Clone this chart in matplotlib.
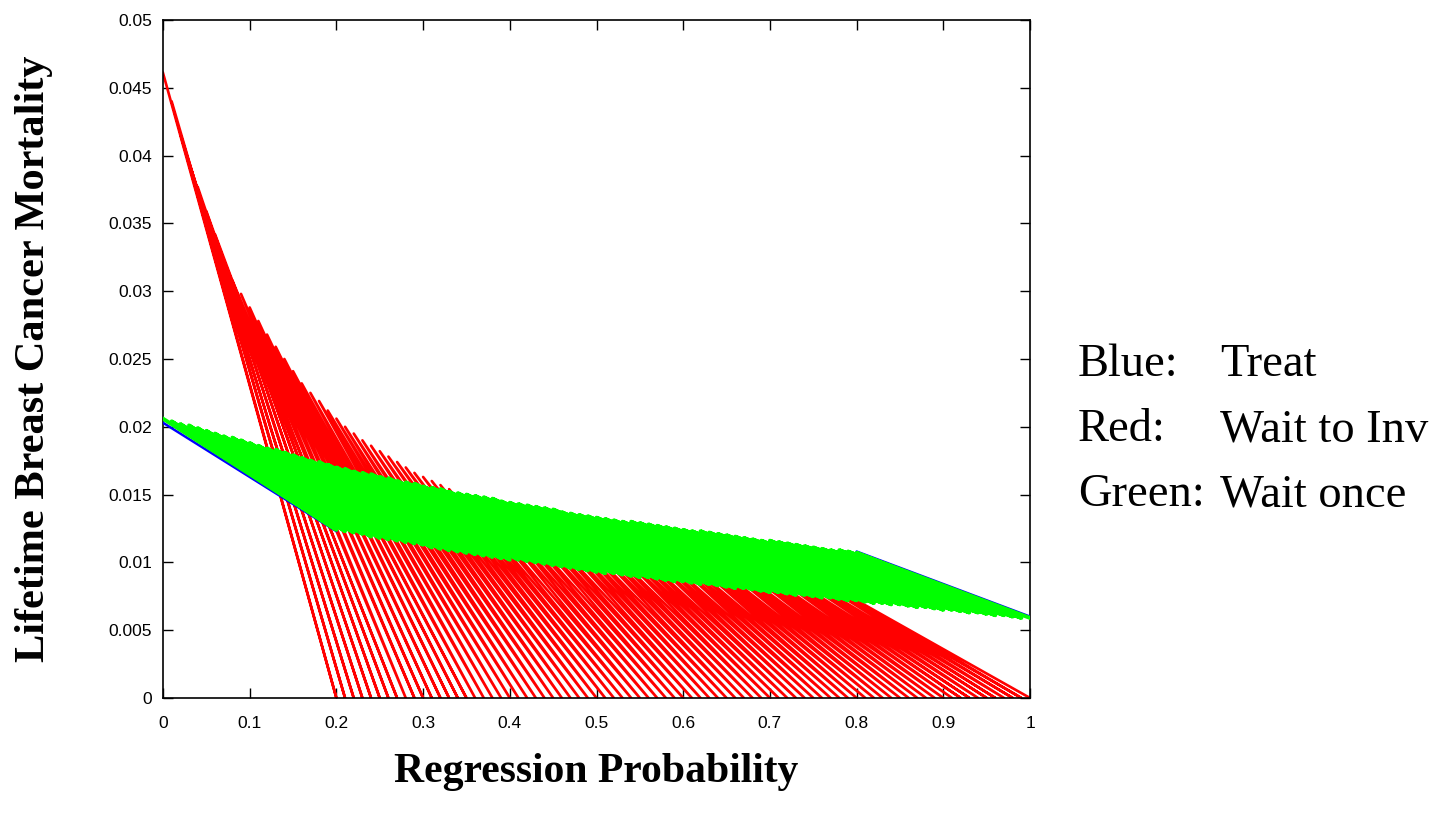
import numpy as np
import matplotlib.pyplot as plt

# regression probability at which each sweep line starts (top end)
reg_start = np.round(np.arange(0, 0.805, 0.01), 2)
blue_start = np.round(np.arange(0, 0.81, 0.02), 2)
shift = 0.2          # each line ends 0.2 further right

# Red: Wait to Inv  (top values, lines end at zero mortality)
red_top = [0.0461, 0.0440, 0.0416, 0.0395, 0.0377, 0.0359, 0.0342, 0.0323, 0.0308, 0.0298,
           0.0288, 0.0278, 0.0268, 0.0259, 0.0250, 0.0241, 0.0232, 0.0225, 0.0219, 0.0212,
           0.0206, 0.0200, 0.0195, 0.0190, 0.0186, 0.0182, 0.0178, 0.0174, 0.0170, 0.0166,
           0.0163, 0.0160, 0.0157, 0.0154, 0.0151, 0.0149, 0.0148, 0.0146, 0.0144, 0.0142,
           0.0141, 0.0139, 0.0137, 0.0136, 0.0134, 0.0132, 0.0130, 0.0129, 0.0127, 0.0125,
           0.0124, 0.0122, 0.0120, 0.0118, 0.0117, 0.0115, 0.0113, 0.0112, 0.0110, 0.0108,
           0.0107, 0.0105, 0.0103, 0.0101, 0.0100, 0.0098, 0.0096, 0.0095, 0.0093, 0.0091,
           0.0089, 0.0088, 0.0086, 0.0084, 0.0082, 0.0081, 0.0079, 0.0077, 0.0076, 0.0074,
           0.0072]
red_bot = [0.0] * 81

# Green: Wait once
green_top = [0.0206, 0.0204, 0.0202, 0.0201, 0.0199, 0.0197, 0.0195, 0.0193, 0.0192, 0.0190,
             0.0188, 0.0186, 0.0184, 0.0183, 0.0181, 0.0179, 0.0177, 0.0175, 0.0174, 0.0172,
             0.0170, 0.0169, 0.0167, 0.0166, 0.0165, 0.0163, 0.0162, 0.0160, 0.0159, 0.0158,
             0.0156, 0.0155, 0.0154, 0.0152, 0.0151, 0.0150, 0.0149, 0.0148, 0.0147, 0.0145,
             0.0144, 0.0143, 0.0142, 0.0141, 0.0140, 0.0139, 0.0137, 0.0136, 0.0135, 0.0134,
             0.0133, 0.0132, 0.0131, 0.0130, 0.0130, 0.0129, 0.0128, 0.0127, 0.0126, 0.0125,
             0.0124, 0.0123, 0.0123, 0.0122, 0.0121, 0.0120, 0.0119, 0.0118, 0.0117, 0.0116,
             0.0116, 0.0115, 0.0114, 0.0113, 0.0112, 0.0111, 0.0110, 0.0109, 0.0109, 0.0108,
             0.0107]
green_bot = [0.0124, 0.0123, 0.0122, 0.0121, 0.0119, 0.0118, 0.0117, 0.0116, 0.0115, 0.0114,
             0.0113, 0.0111, 0.0110, 0.0109, 0.0108, 0.0107, 0.0106, 0.0105, 0.0104, 0.0103,
             0.0102, 0.0102, 0.0101, 0.0100, 0.0099, 0.0098, 0.0097, 0.0096, 0.0095, 0.0094,
             0.0093, 0.0092, 0.0092, 0.0091, 0.0090, 0.0089, 0.0089, 0.0088, 0.0087, 0.0086,
             0.0086, 0.0085, 0.0084, 0.0084, 0.0083, 0.0082, 0.0081, 0.0081, 0.0080, 0.0079,
             0.0078, 0.0078, 0.0077, 0.0076, 0.0076, 0.0075, 0.0074, 0.0074, 0.0073, 0.0072,
             0.0072, 0.0071, 0.0070, 0.0070, 0.0069, 0.0069, 0.0068, 0.0067, 0.0067, 0.0066,
             0.0065, 0.0065, 0.0064, 0.0063, 0.0063, 0.0062, 0.0061, 0.0061, 0.0060, 0.0059,
             0.0059]

# Blue: Treat (mostly hidden under green)
blue_top = [0.0203, 0.0201, 0.0198, 0.0194, 0.0190, 0.0187, 0.0183, 0.0180, 0.0176, 0.0173,
            0.0169, 0.0166, 0.0164, 0.0161, 0.0158, 0.0155, 0.0153, 0.0150, 0.0148, 0.0146,
            0.0143, 0.0141, 0.0139, 0.0137, 0.0134, 0.0132, 0.0130, 0.0129, 0.0127, 0.0125,
            0.0123, 0.0122, 0.0120, 0.0118, 0.0116, 0.0115, 0.0113, 0.0111, 0.0109, 0.0108,
            0.0108]
blue_bot = [0.0123, 0.0123, 0.0120, 0.0118, 0.0116, 0.0114, 0.0111, 0.0109, 0.0107, 0.0105,
            0.0103, 0.0102, 0.0100, 0.0098, 0.0096, 0.0094, 0.0093, 0.0091, 0.0089, 0.0088,
            0.0087, 0.0085, 0.0084, 0.0082, 0.0081, 0.0079, 0.0078, 0.0076, 0.0075, 0.0074,
            0.0073, 0.0071, 0.0070, 0.0069, 0.0068, 0.0067, 0.0065, 0.0064, 0.0062, 0.0061,
            0.0060]


def zigzag(start, top, bot):
    # sweep output: start point, end point, next start point, ...
    xs = np.column_stack([start, start + shift]).ravel()
    ys = np.column_stack([top, bot]).ravel()
    return xs, ys


fig = plt.figure(figsize=(14.41, 8.15), dpi=100)
ax = fig.add_axes([0.1131, 0.1436, 0.6017, 0.8319])

x, y = zigzag(reg_start, red_top, red_bot)
ax.plot(x, y, color='#ff0000', lw=1.9, zorder=2)
x, y = zigzag(blue_start, blue_top, blue_bot)
ax.plot(x, y, color='#0000ff', lw=1.8, zorder=3)
x, y = zigzag(reg_start, green_top, green_bot)
ax.plot(x, y, color='#00ff00', lw=2.8, zorder=4)

ax.set_xlim(0, 1)
ax.set_ylim(0, 0.05)
ax.set_xticks(np.arange(0, 1.01, 0.1))
ax.set_xticklabels(['0', '0.1', '0.2', '0.3', '0.4', '0.5', '0.6', '0.7', '0.8', '0.9', '1'])
ax.set_yticks(np.arange(0, 0.0501, 0.005))
ax.set_yticklabels(['0', '0.005', '0.01', '0.015', '0.02', '0.025', '0.03',
                    '0.035', '0.04', '0.045', '0.05'])
ax.tick_params(direction='in', length=7, width=1, top=True, right=True, labelsize=12.5)
ax.tick_params(axis='x', pad=13)
ax.tick_params(axis='y', pad=8)
for lab in ax.get_xticklabels() + ax.get_yticklabels():
    lab.set_family('Liberation Sans')
for s in ax.spines.values():
    s.set_linewidth(1.2)

ax.set_xlabel('Regression Probability', family='Liberation Serif',
              fontweight='bold', fontsize=30, labelpad=16)
ax.set_ylabel('Lifetime Breast Cancer Mortality', family='Liberation Serif',
              fontweight='bold', fontsize=30.5, labelpad=40)

# text legend at the right
names = ['Blue:', 'Red:', 'Green:']
meaning = ['Treat', 'Wait to Inv', 'Wait once']
rows_y = [365, 430, 495]
for n, m, ry in zip(names, meaning, rows_y):
    fig.text(1078 / 1441, 1 - ry / 815, n, family='Liberation Serif', fontsize=33.5,
             va='center', ha='left')
    fig.text(1220 / 1441, 1 - ry / 815, m, family='Liberation Serif', fontsize=33.5,
             va='center', ha='left')

fig.savefig('out.png', dpi=100)
